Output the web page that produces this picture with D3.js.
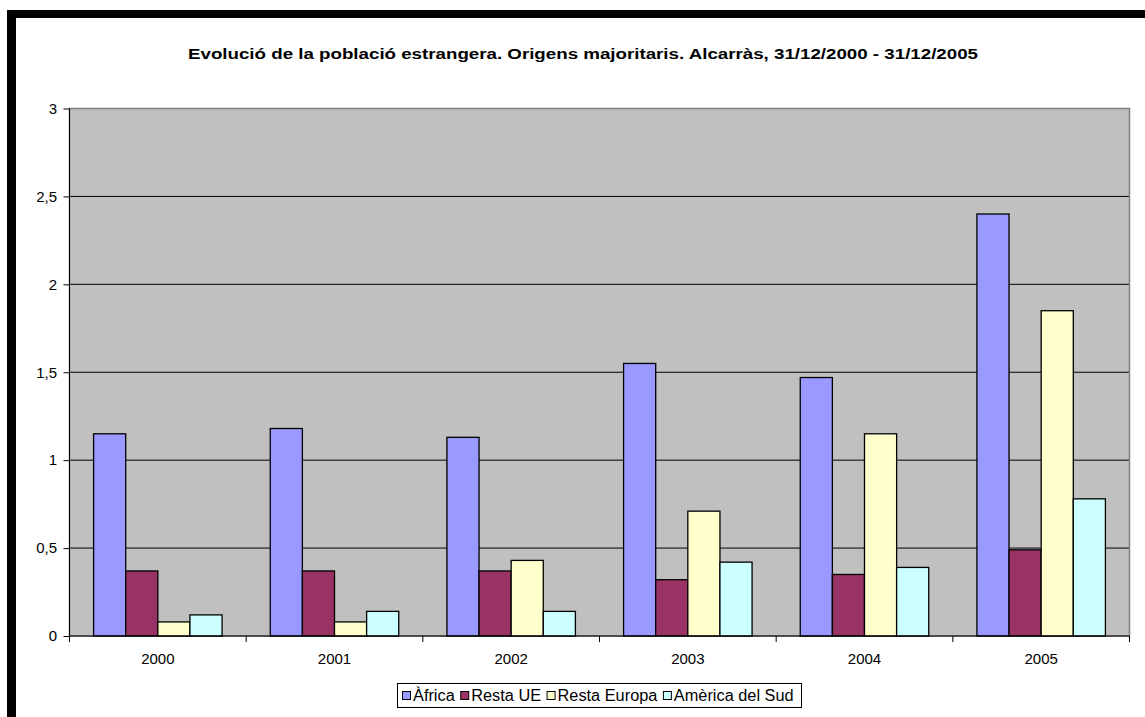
<!DOCTYPE html>
<html><head><meta charset="utf-8">
<script src="https://cdn.jsdelivr.net/npm/d3@7"></script>
<style>body{margin:0;background:#fff}svg{display:block;font-family:"Liberation Sans",Arial,sans-serif}</style>
</head><body>
<svg id="c" width="1145" height="717"></svg>
<script>
const title = "Evolució de la població estrangera. Origens majoritaris. Alcarràs, 31/12/2000 - 31/12/2005";
const years = ["2000","2001","2002","2003","2004","2005"];
const seriesNames = ["Àfrica","Resta UE","Resta Europa","Amèrica del Sud"];
const seriesColors = ["#9999FF","#993366","#FFFFCC","#CCFFFF"];
const africa = [1.15,1.18,1.13,1.55,1.47,2.40];
const restaUE = [0.37,0.37,0.37,0.32,0.35,0.49];
const restaEuropa = [0.08,0.08,0.43,0.71,1.15,1.85];
const america = [0.12,0.14,0.14,0.42,0.39,0.78];
const yTicks = [0,0.5,1,1.5,2,2.5,3];
const yTickLabels = ["0","0,5","1","1,5","2","2,5","3"];

const seriesValues = [africa,restaUE,restaEuropa,america];
const svg = d3.select("#c");
const FONT = "Liberation Sans, Arial, sans-serif";

// outer black frame (top and left)
svg.append("rect").attr("x",7).attr("y",10).attr("width",1145-7).attr("height",8).attr("fill","#000");
svg.append("rect").attr("x",7).attr("y",10).attr("width",9).attr("height",717-10).attr("fill","#000");

const L=69.5, R=1129.5, T=108.5, B=636;
const x = d3.scaleBand().domain(years).range([L,R]).paddingInner(0).paddingOuter(0);
const y = d3.scaleLinear().domain([0,3]).range([B,T]);
const bw = x.bandwidth()/5.5;
const inner = d3.scaleBand().domain(d3.range(4)).range([0,bw*4]);

svg.append("rect").attr("x",L).attr("y",T).attr("width",R-L).attr("height",B-T).attr("fill","#C0C0C0");

// gridlines
svg.append("g").selectAll("line").data(yTicks.filter(d=>d>0 && d<3)).join("line")
  .attr("x1",L).attr("x2",R).attr("y1",d=>y(d)).attr("y2",d=>y(d)).attr("stroke","#000").attr("stroke-width",1);
// plot border
svg.append("rect").attr("x",L).attr("y",T).attr("width",R-L).attr("height",B-T).attr("fill","none").attr("stroke","#808080").attr("stroke-width",1.5);

// bars
seriesValues.forEach((vals,si)=>{
  svg.append("g").selectAll("rect").data(vals).join("rect")
    .attr("x",(d,i)=>x(years[i])+bw*0.75+inner(si))
    .attr("y",d=>y(d))
    .attr("width",bw)
    .attr("height",d=>B-y(d))
    .attr("fill",seriesColors[si]).attr("stroke","#000").attr("stroke-width",1.3);
});

// y axis
const ya = svg.append("g").attr("transform",`translate(${L},0)`)
  .call(d3.axisLeft(y).tickValues(yTicks).tickFormat((d,i)=>yTickLabels[i]).tickSize(6).tickPadding(6.5));
ya.select(".domain").attr("stroke","#000").attr("d",`M0,${T}V${B}`);
ya.selectAll(".tick line").attr("stroke","#000");
ya.selectAll("text").attr("font-size",15).attr("fill","#000").attr("font-family",FONT);

// x axis
const xa = svg.append("g").attr("transform",`translate(0,${B})`)
  .call(d3.axisBottom(x).tickSize(0).tickPadding(17));
xa.select(".domain").attr("stroke","#000").attr("d",`M${L},0H${R}`);
xa.selectAll("text").attr("font-size",15).attr("fill","#000").attr("font-family",FONT);
svg.append("g").selectAll("line").data(years.concat(["end"])).join("line")
  .attr("x1",(d,i)=>L+i*x.bandwidth()).attr("x2",(d,i)=>L+i*x.bandwidth())
  .attr("y1",B).attr("y2",B+6).attr("stroke","#000");

// title
svg.append("text").attr("x",583).attr("y",58.5).attr("text-anchor","middle")
  .attr("font-size",14.5).attr("font-weight","bold").attr("font-family",FONT)
  .attr("textLength",790).attr("lengthAdjust","spacingAndGlyphs")
  .text(title);

// legend
const lg = svg.append("g");
lg.append("rect").attr("x",397.5).attr("y",683.5).attr("width",404).attr("height",24).attr("fill","#fff").attr("stroke","#000");
let cx = 402.5;
seriesNames.forEach((n,i)=>{
  lg.append("rect").attr("x",cx).attr("y",691.5).attr("width",8).attr("height",8).attr("fill",seriesColors[i]).attr("stroke","#000");
  const t = lg.append("text").attr("x",cx+10.5).attr("y",701).attr("font-size",16).attr("font-family",FONT).text(n);
  const w = t.node().getComputedTextLength()*1.02;
  t.attr("textLength",w).attr("lengthAdjust","spacingAndGlyphs");
  cx += 10.5 + w + 6;
});
</script>
</body></html>
